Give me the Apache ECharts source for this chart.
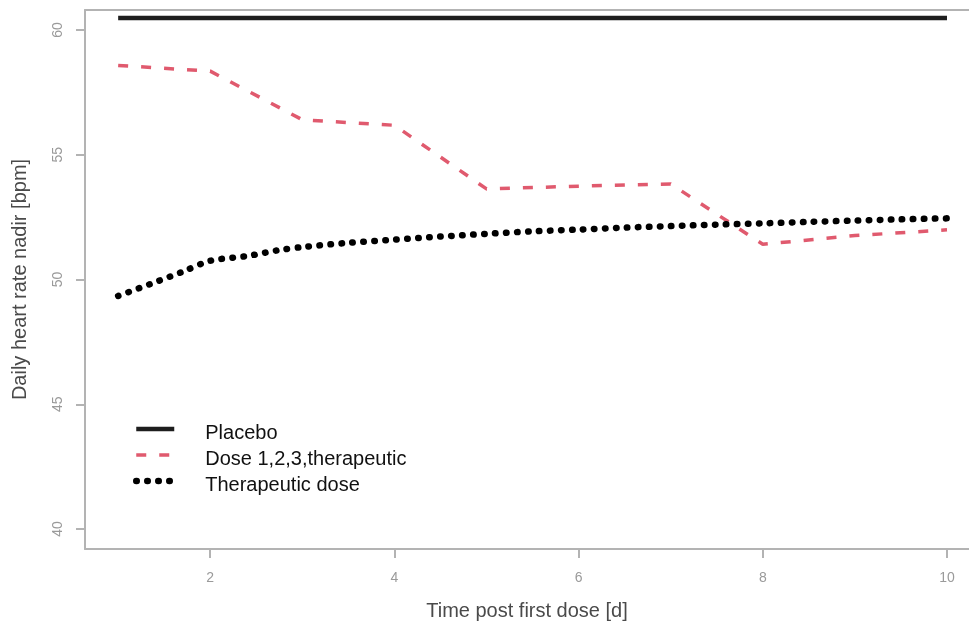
<!DOCTYPE html>
<html>
<head>
<meta charset="utf-8">
<script src="https://cdn.jsdelivr.net/npm/echarts@6/dist/echarts.min.js"></script>
<style>html,body{margin:0;padding:0;background:#fff;}#c{width:969px;height:626px;}</style>
</head>
<body>
<div id="c"></div>
<script>
// Data
var seriesNames = ['Placebo', 'Dose 1,2,3,therapeutic', 'Therapeutic dose'];
var placeboX = [1, 10];
var placeboY = [60.48, 60.48];
var doseX = [1, 2, 3, 4, 5, 6, 7, 8, 9, 10];
var doseY = [58.58, 58.35, 56.4, 56.18, 53.63, 53.74, 53.83, 51.41, 51.76, 51.99];
var therX = [1, 1.35, 1.7, 2, 2.4, 2.75, 3, 3.5, 4, 4.5, 5, 5.5, 6, 6.5, 7, 7.5, 8, 8.5, 9, 9.5, 10];
var therY = [49.34, 49.82, 50.31, 50.75, 50.94, 51.18, 51.3, 51.47, 51.6, 51.72, 51.83, 51.93, 52.0, 52.08, 52.14, 52.2, 52.25, 52.31, 52.36, 52.41, 52.45];
var xTicks = [2, 4, 6, 8, 10];
var yTicks = [40, 45, 50, 55, 60];

function pairs(xs, ys) { return xs.map(function (x, i) { return [x, ys[i]]; }); }

var chart = echarts.init(document.getElementById('c'), null, {renderer: 'canvas'});
var axisGray = '#b3b3b3';
var labelGray = '#9a9a9a';
var titleGray = '#4a4a4a';
var font = 'Liberation Sans, Arial, sans-serif';

chart.setOption({
  animation: false,
  backgroundColor: '#ffffff',
  grid: {left: 85, right: 0, top: 10, bottom: 77, show: false, containLabel: false},
  xAxis: [{
    type: 'value', min: 0.64, max: 10.239, position: 'bottom',
    name: 'Time post first dose [d]', nameLocation: 'middle', nameGap: 52,
    nameTextStyle: {fontSize: 20, color: titleGray, fontFamily: font},
    axisLine: {show: true, onZero: false, lineStyle: {color: axisGray, width: 2}},
    splitLine: {show: false},
    axisTick: {show: true, length: 9, lineStyle: {color: axisGray, width: 2}, customValues: xTicks},
    axisLabel: {fontSize: 14, color: labelGray, fontFamily: font, margin: 22, customValues: xTicks}
  }, {
    type: 'value', min: 0.64, max: 10.239, position: 'top',
    axisLine: {show: true, onZero: false, lineStyle: {color: axisGray, width: 2}},
    splitLine: {show: false}, axisTick: {show: false}, axisLabel: {show: false}
  }],
  yAxis: {
    type: 'value', min: 39.2, max: 60.8,
    name: 'Daily heart rate nadir [bpm]', nameLocation: 'middle', nameGap: 55,
    nameTextStyle: {fontSize: 20, color: titleGray, fontFamily: font},
    axisLine: {show: true, onZero: false, lineStyle: {color: axisGray, width: 2}},
    splitLine: {show: false},
    axisTick: {show: true, length: 9, lineStyle: {color: axisGray, width: 2}, customValues: yTicks},
    axisLabel: {fontSize: 14, color: labelGray, fontFamily: font, margin: 20, rotate: 90, customValues: yTicks}
  },
  legend: {
    orient: 'vertical', left: 133, top: 415, padding: 0, itemGap: -2,
    itemWidth: 38, itemHeight: 14,
    itemStyle: {opacity: 0},
    lineStyle: {width: 'inherit'},
    formatter: '{a|{name}}',
    textStyle: {
      fontSize: 20, color: '#111', fontFamily: font,
      rich: {a: {fontSize: 20, color: '#111', fontFamily: font, lineHeight: 20, padding: [8, 0, 0, 26]}}
    },
    data: seriesNames
  },
  series: [
    {
      name: seriesNames[0], type: 'line', data: pairs(placeboX, placeboY),
      symbol: 'none', lineStyle: {color: '#1e1e1e', width: 4.5}, itemStyle: {color: '#1e1e1e'}
    },
    {
      name: seriesNames[1], type: 'line', data: pairs(doseX, doseY),
      symbol: 'none', lineStyle: {color: '#e05a6e', width: 3.5, type: [10, 13]}, itemStyle: {color: '#e05a6e'}
    },
    {
      name: seriesNames[2], type: 'line', data: pairs(therX, therY),
      symbol: 'none', smooth: 0.3,
      lineStyle: {color: '#000', width: 6.5, type: [0.5, 10.5], cap: 'round'}, itemStyle: {color: '#000'}
    }
  ]
});
</script>
</body>
</html>
